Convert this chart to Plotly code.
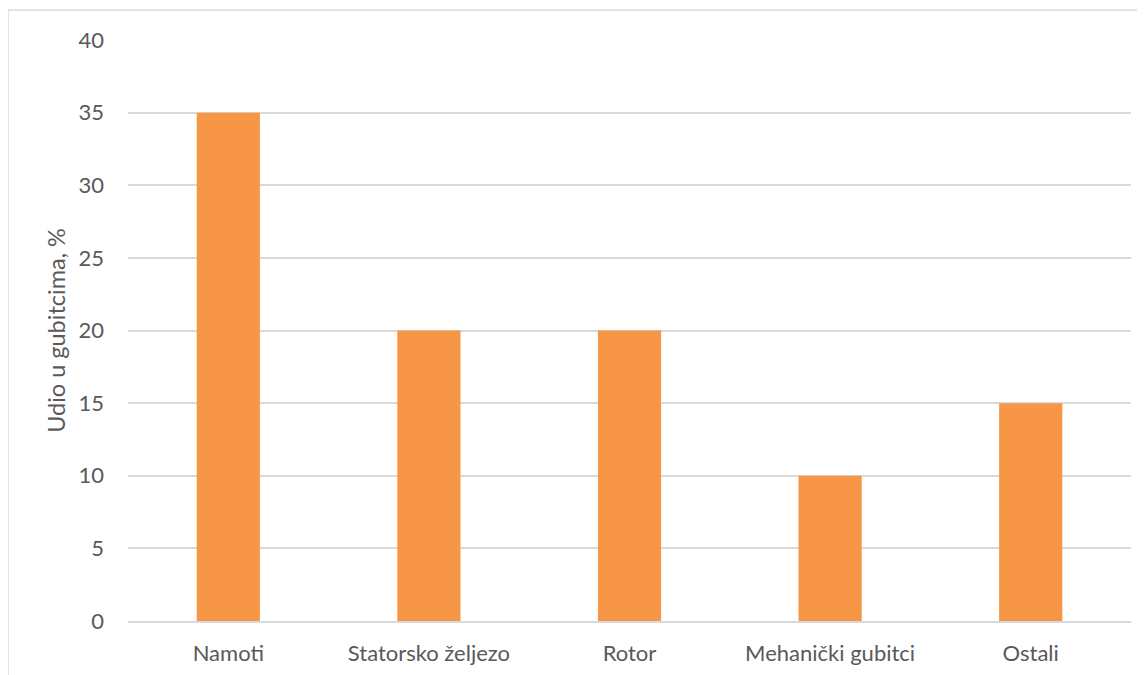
import plotly.graph_objects as go

categories = ["Namoti", "Statorsko željezo", "Rotor", "Mehanički gubitci", "Ostali"]
values = [35, 20, 20, 10, 15]
y_ticks = [0, 5, 10, 15, 20, 25, 30, 35, 40]

# page body has an 8px offset; figure sized to fit exactly in the window
OFF = 8
W, H = 1145 - OFF, 675 - OFF
L, R, T, B = 128 - OFF, 14, 40 - OFF, 675 - 621
pw, ph = W - L - R, H - T - B

fig = go.Figure(go.Bar(x=categories, y=values, marker=dict(color="#F79646", line=dict(width=0)),
                       hoverinfo="x+y"))

font_fam = "Lato, Carlito, Calibri, sans-serif"
fig.update_layout(
    width=W, height=H,
    margin=dict(l=L, r=R, t=T, b=B, pad=0, autoexpand=False),
    paper_bgcolor="white", plot_bgcolor="white",
    bargap=0.685,
    showlegend=False,
    font=dict(family=font_fam, size=22, color="#595959"),
    xaxis=dict(showgrid=False, showline=True, linecolor="#D9D9D9", linewidth=1.5, automargin=False,
               ticks="", tickfont=dict(size=22, color="#595959"), ticklabelstandoff=12),
    yaxis=dict(range=[0, 40], tickvals=y_ticks, showgrid=True, gridcolor="#D9D9D9", gridwidth=1.5,
               zeroline=False, showline=False, ticks="", ticklabelstandoff=23, automargin=False,
               tickfont=dict(size=22, color="#595959"),
               title=dict(text="Udio u gubitcima, %", font=dict(size=23.5, color="#595959"), standoff=6)),
    shapes=[dict(type="rect", xref="paper", yref="paper",
                 x0=(8 - 128) / pw, x1=1 + 40 / pw,
                 y0=-100 / ph, y1=1 + 30 / ph,
                 line=dict(color="#D9D9D9", width=1.5), fillcolor="rgba(0,0,0,0)", layer="below")],
)

fig.write_html("out.html")
